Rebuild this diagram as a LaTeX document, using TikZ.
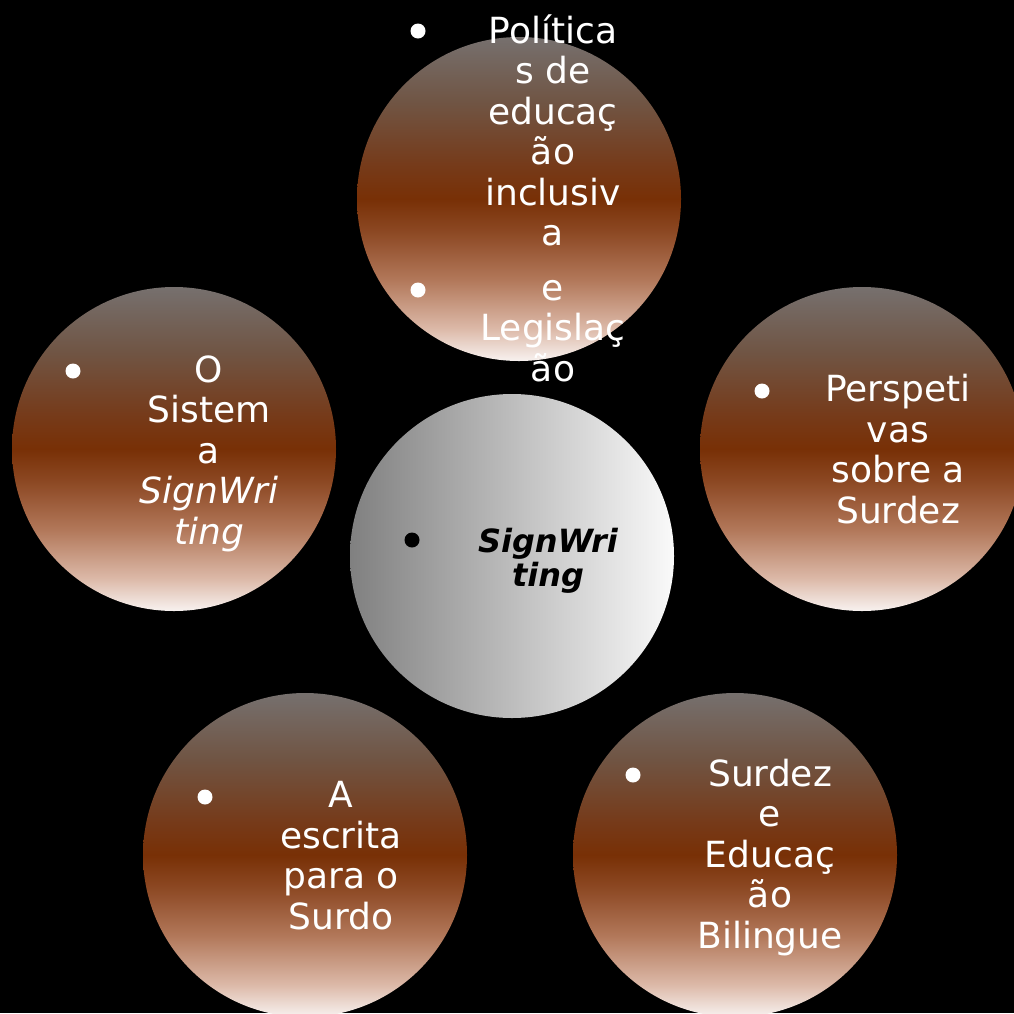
\documentclass[tikz,border=0pt]{standalone}
\usepackage{fontspec}
\setmainfont{DejaVu Sans}
\definecolor{bw}{RGB}{248,242,240}
\definecolor{bA}{RGB}{220,185,168}
\definecolor{bB}{RGB}{178,120,90}
\definecolor{bC}{RGB}{140,72,35}
\definecolor{bD}{RGB}{120,48,6}
\definecolor{bE}{RGB}{118,58,25}
\definecolor{bF}{RGB}{112,85,68}
\definecolor{bG}{RGB}{118,112,110}
\definecolor{gL}{RGB}{128,128,128}
\definecolor{gR}{RGB}{250,250,250}
\pgfdeclareverticalshading{brownball}{100bp}{color(0bp)=(bw); color(25bp)=(bw); color(30bp)=(bA); color(37.5bp)=(bB); color(45bp)=(bC); color(50bp)=(bD); color(55bp)=(bE); color(65bp)=(bF); color(75bp)=(bG); color(100bp)=(bG)}
\pgfdeclarehorizontalshading{grayball}{100bp}{color(0bp)=(gL); color(25bp)=(gL); color(75bp)=(gR); color(100bp)=(gR)}
\tikzset{
  ball/.style={circle, minimum size=324pt, inner sep=0pt, shading=brownball},
  cball/.style={circle, minimum size=324pt, inner sep=0pt, shading=grayball},
  bul/.style={circle, fill=white, minimum size=15pt, inner sep=0pt},
  cbul/.style={circle, fill=black, minimum size=15pt, inner sep=0pt},
  txt/.style={text=white, align=center, inner sep=0pt, anchor=base, font=\fontsize{36}{40.5}\selectfont},
  ctxt/.style={text=black, align=center, inner sep=0pt, anchor=base, font=\fontsize{32}{34}\selectfont\bfseries\itshape}
}
\begin{document}
\begin{tikzpicture}[x=1pt,y=-1pt]
\fill[black] (0,0) rectangle (1014,1013);
\useasboundingbox (0,0) rectangle (1014,1013);
% circles
\node[ball] (top) at (519,199) {};
\node[ball] (left) at (174,449) {};
\node[ball] (right) at (862,449) {};
\node[ball] (bl) at (305,855) {};
\node[ball] (br) at (735,855) {};
\node[cball] (ctr) at (512,556) {};
% top
\node[bul] (tb1) at (418,31) {};
\node[bul] (tb2) at (418,290) {};
\node[txt] (tt) at (553,381) {Política\\s de\\educaç\\ão\\inclusiv\\a\\[14pt]e\\Legislaç\\ão};
% left
\node[bul] (lb) at (73,371) {};
\node[txt] (lt) at (209,544) {O\\Sistem\\a\\\itshape SignWri\\\itshape ting};
% right
\node[bul] (rb) at (762,391) {};
\node[txt] (rt) at (898,523) {Perspeti\\vas\\sobre a\\Surdez};
% bottom left
\node[bul] (blb) at (205,797) {};
\node[txt] (blt) at (341,929) {A\\escrita\\para o\\Surdo};
% bottom right
\node[bul] (brb) at (633,775) {};
\node[txt] (brt) at (770,948) {Surdez\\e\\Educaç\\ão\\Bilingue};
% center
\node[cbul] (cb) at (412,540) {};
\node[ctxt] (ct) at (548,586) {SignWri\\ting};
\end{tikzpicture}
\end{document}
